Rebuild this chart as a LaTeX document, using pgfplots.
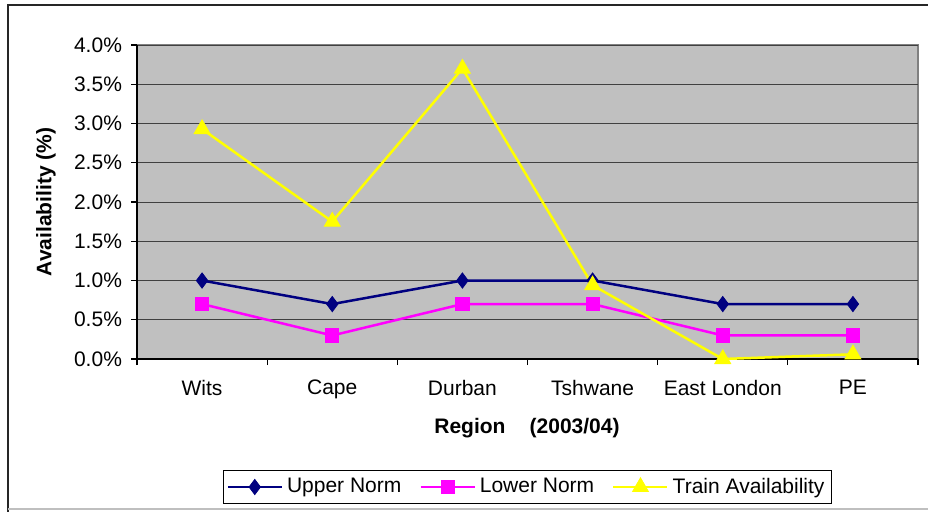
\documentclass[border=0pt]{standalone}
\usepackage{fontspec}
\setmainfont{Liberation Sans}
\usepackage{pgfplots}
\pgfplotsset{compat=1.18}
\definecolor{plotbg}{HTML}{C0C0C0}
\definecolor{upper}{HTML}{000080}
\definecolor{lower}{HTML}{FF00FF}
\definecolor{train}{HTML}{FFFF00}
\newcommand\chartfont{\fontsize{10.5}{12}\selectfont}
\begin{document}
\begin{tikzpicture}
\useasboundingbox (0,0) rectangle (464pt,-255.5pt);
% chart frame
\draw[line width=0.8pt, black!85] (465pt,-2.5pt) -- (4pt,-2.5pt) -- (4pt,-256pt);
\draw[line width=0.8pt, black!25] (4pt,-254.5pt) -- (465pt,-254.5pt);
\begin{axis}[
  at={(68.5pt,-179.5pt)}, anchor=south west,
  scale only axis, width=390.5pt, height=157pt,
  xmin=-0.5, xmax=5.5, ymin=0, ymax=4,
  axis background/.style={fill=plotbg, draw=black!50, line width=1pt},
  axis lines*=left,
  axis line style={line width=0.6pt, black},
  tick align=outside, major tick length=3pt,
  tick style={black, line width=0.6pt},
  ymajorgrids, grid style={black!75, line width=0.5pt},
  ytick={0,0.5,1,1.5,2,2.5,3,3.5,4},
  yticklabel={\pgfmathprintnumber[fixed,fixed zerofill,precision=1]{\tick}\%},
  /pgf/number format/assume math mode=true,
  xtick={-0.5,0.5,1.5,2.5,3.5,4.5,5.5}, xticklabels={},
  extra x ticks={0,1,2,3,4,5},
  extra x tick labels={Wits,Cape,Durban,Tshwane,East London,PE},
  extra x tick style={major tick length=0pt, xmajorgrids=false},
  ticklabel style={font=\chartfont},
  xticklabel style={yshift=-7pt},
  yticklabel style={xshift=-1pt},
  legend style={at={(0.5,-0.4076)}, anchor=center, legend columns=3,
    draw=black, line width=0.5pt, font=\chartfont,
    inner sep=1.5pt, /tikz/every even column/.append style={column sep=7pt}},
  legend image code/.code={\draw[mark repeat=2,mark phase=2] plot coordinates {(0pt,0pt)(13.5pt,0pt)(27pt,0pt)};},
  clip=false,
]
\addplot[upper, line width=1.25pt, mark=diamond*, mark size=3.8pt, mark options={fill=upper, line width=0.4pt}]
  coordinates {(0,1.0) (1,0.7) (2,1.0) (3,1.0) (4,0.7) (5,0.7)};
\addlegendentry{Upper Norm}
\addplot[lower, line width=1.25pt, mark=square*, mark size=3.3pt, mark options={fill=lower, line width=0.4pt}]
  coordinates {(0,0.7) (1,0.3) (2,0.7) (3,0.7) (4,0.3) (5,0.3)};
\addlegendentry{Lower Norm}
\addplot[train, line width=1.25pt, mark=triangle*, mark size=4.6pt, mark options={fill=train, line width=0.4pt}]
  coordinates {(0,2.93) (1,1.75) (2,3.70) (3,0.94) (4,0.0) (5,0.06)};
\addlegendentry{Train Availability}
\end{axis}
\node[rotate=90, font=\chartfont\bfseries] at (23pt,-101pt) {Availability (\%)};
\node[font=\chartfont\bfseries] at (263.5pt,-214pt) {Region\hspace{1.15em}(2003/04)};
\end{tikzpicture}
\end{document}
